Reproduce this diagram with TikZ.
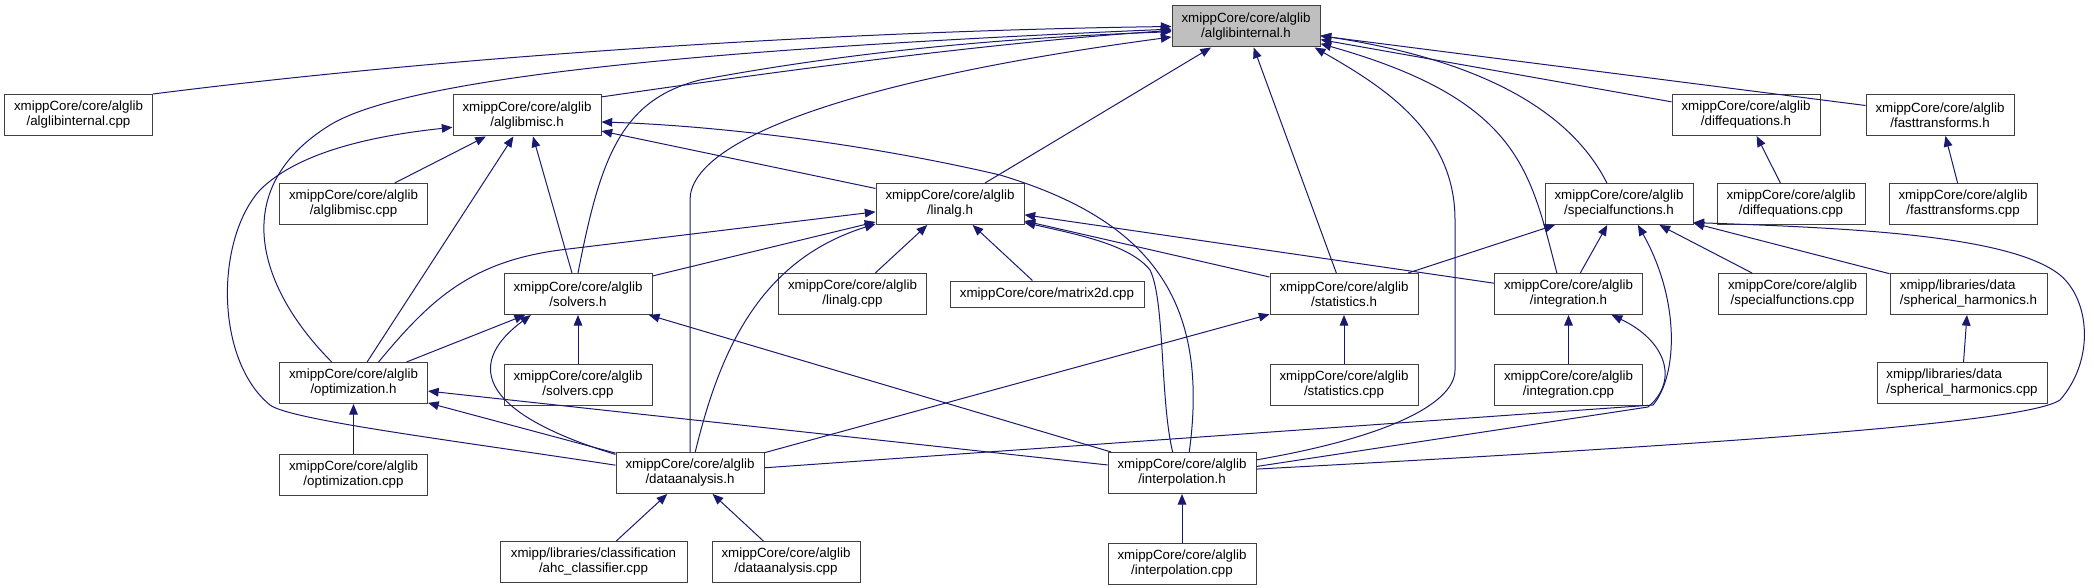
\documentclass[tikz,border=0pt]{standalone}
\usepackage{fontspec}
\setmainfont{Liberation Sans}
\usepackage{tikz}
\usetikzlibrary{arrows.meta, positioning}

\definecolor{edgeblue}{RGB}{25,25,112}
\definecolor{boxline}{RGB}{64,64,64}
\definecolor{boxgrey}{RGB}{191,191,191}

\begin{document}
\begin{tikzpicture}[
    x=0.75pt, y=-0.75pt,
    file/.style={draw=boxline, line width=0.75pt, rectangle, minimum width=111pt, minimum height=30.75pt, inner sep=0pt, align=center, font=\fontsize{10}{11.25}\selectfont},
    focus/.style={file, fill=boxgrey},
    dep/.style={-{Triangle[length=8pt, width=6.5pt]}, edgeblue, line width=0.75pt}
  ]
  \useasboundingbox (0,0) rectangle (2094,588);

  % Current file
  \node[focus] (ai) at (1246,26.5) {xmippCore/core/alglib\\/alglibinternal.h};

  % Row 1
  \node[file] (aicpp) at (78.5,115) {xmippCore/core/alglib\\/alglibinternal.cpp};
  \node[file] (misc) at (527,115.5) {xmippCore/core/alglib\\/alglibmisc.h};
  \node[file] (diffh) at (1746,115) {xmippCore/core/alglib\\/diffequations.h};
  \node[file] (fasth) at (1940,115) {xmippCore/core/alglib\\/fasttransforms.h};

  % Row 2
  \node[file] (misccpp) at (353.5,204) {xmippCore/core/alglib\\/alglibmisc.cpp};
  \node[file] (linalg) at (950,204) {xmippCore/core/alglib\\/linalg.h};
  \node[file] (specf) at (1619,204) {xmippCore/core/alglib\\/specialfunctions.h};
  \node[file] (diffcpp) at (1791,204) {xmippCore/core/alglib\\/diffequations.cpp};
  \node[file] (fastcpp) at (1963,204) {xmippCore/core/alglib\\/fasttransforms.cpp};

  % Row 3
  \node[file] (solvers) at (578,294) {xmippCore/core/alglib\\/solvers.h};
  \node[file] (linalgcpp) at (852.5,294) {xmippCore/core/alglib\\/linalg.cpp};
  \node[file, minimum width=145.5pt, minimum height=19.5pt] (matrix) at (1047,294) {xmippCore/core/matrix2d.cpp};
  \node[file] (stats) at (1344,294) {xmippCore/core/alglib\\/statistics.h};
  \node[file] (integ) at (1568.5,294) {xmippCore/core/alglib\\/integration.h};
  \node[file] (specfcpp) at (1792.5,294) {xmippCore/core/alglib\\/specialfunctions.cpp};
  \node[file, minimum width=117.75pt, align=left] (spherh) at (1968.5,294) {xmipp/libraries/data\\/spherical\_harmonics.h};

  % Row 4
  \node[file] (optim) at (353.5,383) {xmippCore/core/alglib\\/optimization.h};
  \node[file, below=36.75pt of solvers] (solvcpp) {xmippCore/core/alglib\\/solvers.cpp};
  \node[file, below=36.75pt of stats] (statscpp) {xmippCore/core/alglib\\/statistics.cpp};
  \node[file, below=36.75pt of integ] (integcpp) {xmippCore/core/alglib\\/integration.cpp};
  \node[file, minimum width=127.5pt, align=left] (sphercpp) at (1962,383) {xmipp/libraries/data\\/spherical\_harmonics.cpp};

  % Row 5
  \node[file, below=37.5pt of optim] (optimcpp) {xmippCore/core/alglib\\/optimization.cpp};
  \node[file] (data) at (690,473) {xmippCore/core/alglib\\/dataanalysis.h};
  \node[file] (interp) at (1182,473) {xmippCore/core/alglib\\/interpolation.h};

  % Row 6
  \node[file, minimum width=140.25pt] (ahc) at (593.5,562) {xmipp/libraries/classification\\/ahc\_classifier.cpp};
  \node[file] (datacpp) at (786,562) {xmippCore/core/alglib\\/dataanalysis.cpp};
  \node[file, below=36.75pt of interp] (interpcpp) {xmippCore/core/alglib\\/interpolation.cpp};

  % alglibinternal.h
  \draw[dep] (aicpp.north east) .. controls (500,50) and (900,30) .. (ai.180);
  \draw[dep] (optim.136) .. controls (260,290) and (225,190) .. (330,125) .. controls (420,70) and (800,45) .. (ai.182);
  \draw[dep] (misc.14) .. controls (800,68) and (1000,42) .. (ai.183);
  \draw[dep] (solvers.north) .. controls (600,160) and (620,100) .. (700,80) .. controls (850,52) and (1000,38) .. (ai.184);
  \draw[dep] (data.north) -- (690,200) .. controls (690,140) and (850,80) .. (ai.188);
  \draw[dep] (linalg) -- (ai);
  \draw[dep] (stats) -- (ai);
  \draw[dep] (interp.10) .. controls (1400,435) and (1455,400) .. (1455,370) -- (1455,220) .. controls (1455,130) and (1380,85) .. (ai.343);
  \draw[dep] (integ.119) .. controls (1530,170) and (1520,100) .. (ai.347);
  \draw[dep] (specf.120) .. controls (1570,110) and (1480,60) .. (ai.353);
  \draw[dep] (diffh) -- (ai);
  \draw[dep] (fasth) -- (ai);

  % alglibmisc.h
  \draw[dep] (misccpp) -- (misc);
  \draw[dep] (optim) -- (misc);
  \draw[dep] (solvers) -- (misc);
  \draw[dep] (linalg) -- (misc);
  \draw[dep] (interp.71) .. controls (1210,300) and (1150,220) .. (1000,175) .. controls (850,140) and (700,125) .. (misc.355);
  \draw[dep] (data.174) .. controls (450,440) and (290,420) .. (270,405) .. controls (215,360) and (215,240) .. (260,190) .. controls (300,150) and (380,135) .. (misc.189);

  % linalg.h
  \draw[dep] (linalgcpp) -- (linalg);
  \draw[dep] (matrix) -- (linalg);
  \draw[dep] (solvers) -- (linalg);
  \draw[dep] (optim.40) .. controls (430,300) and (470,262) .. (560,250) -- (linalg.186);
  \draw[dep] (data.76) .. controls (720,350) and (760,260) .. (linalg.195);
  \draw[dep] (stats) -- (linalg);
  \draw[dep] (integ) -- (linalg);
  \draw[dep] (interp.114) .. controls (1160,400) and (1165,300) .. (1150,270) .. controls (1130,245) and (1080,235) .. (linalg.346);

  % solvers.h
  \draw[dep] (solvcpp) -- (solvers);
  \draw[dep] (optim) -- (solvers);
  \draw[dep] (data.166) .. controls (470,410) and (470,360) .. (solvers.204);
  \draw[dep] (interp) -- (solvers);

  % optimization.h
  \draw[dep] (optimcpp) -- (optim);
  \draw[dep] (data) -- (optim);
  \draw[dep] (interp) -- (optim);

  % statistics.h, integration.h
  \draw[dep] (statscpp) -- (stats);
  \draw[dep] (data) -- (stats);
  \draw[dep] (integcpp) -- (integ);
  \draw[dep] (interp.5) -- (1648,407) .. controls (1680,380) and (1665,340) .. (integ.334);

  % specialfunctions.h
  \draw[dep] (stats) -- (specf);
  \draw[dep] (integ) -- (specf);
  \draw[dep] (specfcpp) -- (specf);
  \draw[dep] (spherh) -- (specf);
  \draw[dep] (data.4) -- (1653,405) .. controls (1678,375) and (1680,300) .. (specf.312);
  \draw[dep] (interp.3) .. controls (1800,440) and (2030,420) .. (2060,400) .. controls (2095,360) and (2090,300) .. (2060,275) .. controls (2010,235) and (1850,228) .. (specf.346);

  % the rest
  \draw[dep] (sphercpp) -- (spherh);
  \draw[dep] (ahc) -- (data);
  \draw[dep] (datacpp) -- (data);
  \draw[dep] (interpcpp) -- (interp);
  \draw[dep] (diffcpp) -- (diffh);
  \draw[dep] (fastcpp) -- (fasth);
\end{tikzpicture}
\end{document}
